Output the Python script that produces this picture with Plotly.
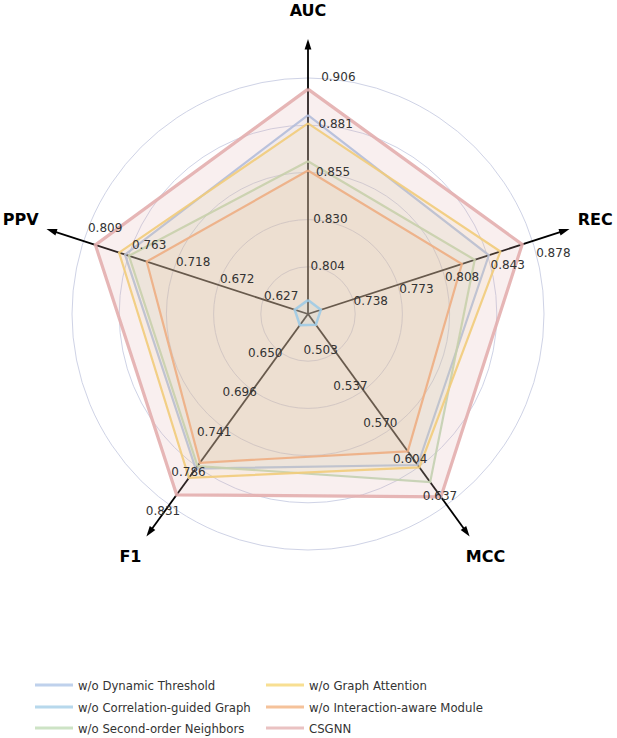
import plotly.graph_objects as go

# ---------------- data ----------------
metrics = ["AUC", "REC", "MCC", "F1", "PPV"]

auc_ticks = ["0.804", "0.830", "0.855", "0.881", "0.906"]
rec_ticks = ["0.738", "0.773", "0.808", "0.843", "0.878"]
mcc_ticks = ["0.503", "0.537", "0.570", "0.604", "0.637"]
f1_ticks = ["0.650", "0.696", "0.741", "0.786", "0.831"]
ppv_ticks = ["0.627", "0.672", "0.718", "0.763", "0.809"]

model_names = [
    "w/o Dynamic Threshold",
    "w/o Correlation-guided Graph",
    "w/o Second-order Neighbors",
    "w/o Graph Attention",
    "w/o Interaction-aware Module",
    "CSGNN",
]
# values in metric order: AUC, REC, MCC, F1, PPV
wo_dynamic_threshold = [0.886, 0.844, 0.602, 0.788, 0.767]
wo_correlation_graph = [0.786, 0.713, 0.479, 0.618, 0.595]
wo_second_order = [0.861, 0.833, 0.617, 0.785, 0.763]
wo_graph_attention = [0.8815, 0.853, 0.604, 0.799, 0.773]
wo_interaction_module = [0.856, 0.823, 0.590, 0.781, 0.745]
csgnn = [0.900, 0.870, 0.630, 0.819, 0.797]

# ---------------- styling ----------------
colors = ["#a9c1e6", "#9fcbe6", "#bcd9b2", "#f6d46e", "#f2ae78", "#e3aeae"]
fill_alpha = [0.10, 0.10, 0.10, 0.10, 0.10, 0.20]
line_widths = [2.2, 2.5, 2.2, 2.2, 2.2, 3.2]
draw_order = [0, 2, 3, 4, 5, 1]
angles = [0, 72, 144, 216, 288]
tick_fracs = [0.2, 0.4, 0.6, 0.8, 1.0]
font_family = "DejaVu Sans"
legend_of = ["legend", "legend2", "legend3", "legend", "legend2", "legend3"]
legend_rank = [1, 1, 1, 2, 2, 2]


def rgba(hexcol, a):
    h = hexcol.lstrip("#")
    r, g, b = int(h[0:2], 16), int(h[2:4], 16), int(h[4:6], 16)
    return f"rgba({r},{g},{b},{a})"


all_ticks = [auc_ticks, rec_ticks, mcc_ticks, f1_ticks, ppv_ticks]
axis_min, axis_max = [], []
for tk in all_ticks:
    vals = [float(t) for t in tk]
    step = (vals[-1] - vals[0]) / 4.0
    axis_min.append(vals[0] - step)
    axis_max.append(vals[-1])


def normalize(values):
    return [(v - lo) / (hi - lo) for v, lo, hi in zip(values, axis_min, axis_max)]


series = [wo_dynamic_threshold, wo_correlation_graph, wo_second_order,
          wo_graph_attention, wo_interaction_module, csgnn]

fig = go.Figure()

# axis lines (under fills)
for a in angles:
    fig.add_trace(go.Scatterpolar(
        r=[0, 1.14], theta=[a, a], mode="lines",
        line=dict(color="black", width=1.8),
        showlegend=False, hoverinfo="skip"))
# arrow heads
fig.add_trace(go.Scatterpolar(
    r=[1.165] * 5, theta=angles, mode="markers",
    marker=dict(symbol="arrow", size=11, color="black", angle=angles,
                line=dict(width=0)),
    showlegend=False, hoverinfo="skip", cliponaxis=False))

# data polygons
for i in draw_order:
    rn = normalize(series[i])
    fig.add_trace(go.Scatterpolar(
        r=rn + [rn[0]], theta=angles + [angles[0]],
        mode="lines", fill="toself",
        fillcolor=rgba(colors[i], fill_alpha[i]),
        line=dict(color=rgba(colors[i], 0.9), width=line_widths[i]),
        name=model_names[i], showlegend=False, hoverinfo="skip"))

# legend-only entries (one legend per row, two columns)
for i, name in enumerate(model_names):
    fig.add_trace(go.Scatterpolar(
        r=[None], theta=[None], mode="lines",
        line=dict(color=rgba(colors[i], 0.75), width=3),
        name=name, legend=legend_of[i], legendrank=legend_rank[i],
        showlegend=True))

# tick labels
rot = 3.2
shifts = [rot, rot, -rot, -rot, rot]
positions = ["middle right", "middle right", "middle left", "middle left", "middle right"]
for a, tk, sh, pos in zip(angles, all_ticks, shifts, positions):
    fig.add_trace(go.Scatterpolar(
        r=tick_fracs, theta=[a + sh] * 5, mode="text", text=tk,
        textposition=pos,
        textfont=dict(family=font_family, size=12, color="#333333"),
        showlegend=False, hoverinfo="skip", cliponaxis=False))

# axis titles
fig.add_trace(go.Scatterpolar(
    r=[1.28] * 5, theta=angles, mode="text", text=metrics,
    textposition="middle center",
    textfont=dict(family=font_family, size=16, color="black", weight="bold"),
    showlegend=False, hoverinfo="skip", cliponaxis=False))

W, H = 617, 738
cx, cy, R1 = 308, 314, 236
rng = 1.3
rad = rng * R1

legend_style = dict(orientation="h", xanchor="left", yanchor="middle",
                    entrywidth=178, itemwidth=38,
                    font=dict(family="DejaVu Sans Condensed, DejaVu Sans", size=13,
                              color="#333333"),
                    bgcolor="rgba(0,0,0,0)")
row_y = [685, 707, 728]
lx = 30 / W

fig.update_layout(
    width=W, height=H,
    margin=dict(l=0, r=0, t=0, b=0, autoexpand=False),
    paper_bgcolor="white",
    polar=dict(
        domain=dict(x=[(cx - rad) / W, (cx + rad) / W],
                    y=[1 - (cy + rad) / H, 1 - (cy - rad) / H]),
        bgcolor="white",
        radialaxis=dict(range=[0, rng], tickvals=tick_fracs, showticklabels=False,
                        ticks="", showline=False, gridcolor="#cfd3e6", gridwidth=1.2),
        angularaxis=dict(rotation=90, direction="clockwise", thetaunit="degrees",
                         showgrid=False, showline=False, showticklabels=False,
                         ticks=""),
    ),
    legend=dict(x=lx, y=1 - row_y[0] / H, **legend_style),
    legend2=dict(x=lx, y=1 - row_y[1] / H, **legend_style),
    legend3=dict(x=lx, y=1 - row_y[2] / H, **legend_style),
    showlegend=True,
)

fig.write_html("out.html")
